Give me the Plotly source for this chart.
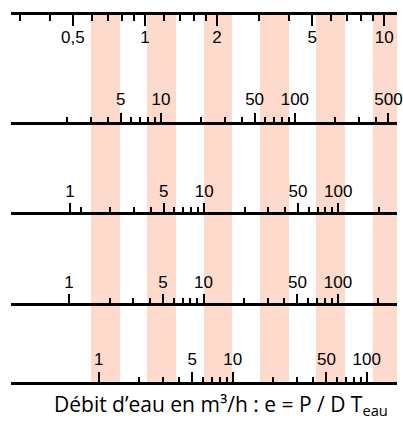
import plotly.graph_objects as go

# ---- data ----
band_index = [0, 1, 2, 3, 4, 5]
band_height = [1, 1, 1, 1, 1, 1]

s1_major = [0.5, 1, 2, 5, 10]
s1_labels = ["0,5", "1", "2", "5", "10"]
s1_minor = [0.3, 0.4, 0.6, 0.7, 0.8, 0.9, 1.2, 1.4, 1.6, 1.8, 3, 4, 6, 7, 8, 9]

s2_major = [5, 10, 50, 100, 500]
s2_labels = ["5", "10", "50", "100", "500"]
s2_minor = [2, 3, 4, 6, 7, 8, 9, 20, 30, 40, 60, 70, 80, 90, 200, 300, 400]

s3_major = [1, 5, 10, 50, 100]
s3_labels = ["1", "5", "10", "50", "100"]
s3_minor = [1.2, 2, 3, 4, 6, 7, 8, 9, 20, 30, 40, 60, 70, 80, 90, 200]

s4_major = [1, 5, 10, 50, 100]
s4_labels = ["1", "5", "10", "50", "100"]
s4_minor = [2, 3, 4, 6, 7, 8, 9, 20, 30, 40, 60, 70, 80, 90, 200]

s5_major = [1, 5, 10, 50, 100]
s5_labels = ["1", "5", "10", "50", "100"]
s5_minor = [2, 3, 4, 6, 7, 8, 9, 20, 30, 40, 60, 70, 80, 90]

title_text = "Débit d’eau en m³/h : e = P / D T<sub>eau</sub>"

# ---- layout config ----
W, H = 403, 421
ML, MR, MT, MB = 11, 0, 13, 38

scales = [
    # major, labels, minor, log-range, position, side, ticklen, minorlen, standoff
    (s1_major, s1_labels, s1_minor, [-0.5597, 1.0535], 1.0, "bottom", 11, 6, -3),
    (s2_major, s2_labels, s2_minor, [-0.1199, 2.7625], 0.7027, "top", 9, 5, 1),
    (s3_major, s3_labels, s3_minor, [-0.4405, 2.4376], 0.4586, "top", 9, 5, 0),
    (s4_major, s4_labels, s4_minor, [-0.4322, 2.4396], 0.2127, "top", 9, 5, 0),
    (s5_major, s5_labels, s5_minor, [-0.6537, 2.2255], 0.0, "top", 10, 5, 0),
]

fig = go.Figure()

fig.add_trace(go.Bar(
    x=band_index, y=band_height, base=0, width=0.51,
    marker=dict(color="rgb(253,218,204)", line=dict(width=0)),
    xaxis="x", yaxis="y", hoverinfo="skip", showlegend=False,
))

layout = dict(
    width=W, height=H,
    margin=dict(l=ML, r=MR, t=MT, b=MB, pad=0),
    paper_bgcolor="white", plot_bgcolor="white",
    showlegend=False, bargap=0,
    xaxis=dict(visible=False, range=[-1.675, 5.178], domain=[0, 1]),
    yaxis=dict(visible=False, range=[0, 1], domain=[0, 1]),
)

for i, (maj, lab, mnr, rng, pos, side, tl, ml, so) in enumerate(scales):
    ax = f"x{i + 2}"
    fig.add_trace(go.Scatter(
        x=maj, y=[0.5] * len(maj), mode="markers",
        marker=dict(opacity=0), xaxis=ax, yaxis="y",
        hoverinfo="skip", showlegend=False,
    ))
    layout[f"xaxis{i + 2}"] = dict(
        type="log", range=rng, domain=[0, 1],
        overlaying="x", anchor="free", position=pos, side=side,
        showline=True, linecolor="black", linewidth=3,
        showgrid=False, zeroline=False,
        tickmode="array", tickvals=maj, ticktext=lab,
        ticks="outside", ticklen=tl, tickwidth=2, tickcolor="black",
        ticklabelstandoff=so, ticklabeloverflow="allow",
        tickfont=dict(family="Liberation Sans, Arial, sans-serif", size=17, color="black"),
        minor=dict(tickmode="array", tickvals=mnr, ticks="outside",
                   ticklen=ml, tickwidth=1.5, tickcolor="black", showgrid=False),
        layer="above traces", fixedrange=True,
    )

layout["annotations"] = [dict(
    text=title_text, xref="paper", yref="paper",
    x=(224.5 - ML) / (W - ML), y=0, yshift=-22, xanchor="center", yanchor="middle",
    showarrow=False,
    font=dict(family="Open Sans, Noto Sans, sans-serif", size=21, color="black", weight=500),
)]

fig.update_layout(**layout)
fig.write_html(
    "out.html",
    config={"displayModeBar": False},
    post_script="document.body.style.margin='0';document.body.style.overflow='hidden';",
)
